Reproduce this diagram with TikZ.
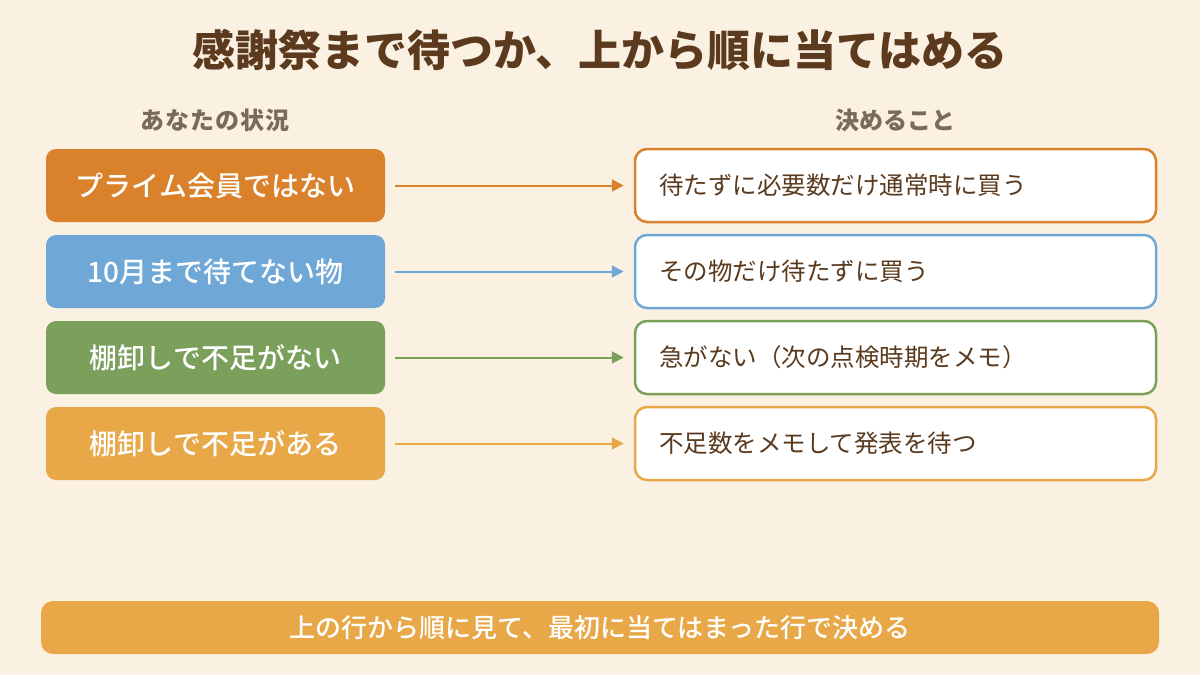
\documentclass[tikz,border=0pt]{standalone}
\usepackage{fontspec}
\setmainfont{Noto Sans CJK JP}
\newfontfamily\medfont{Noto Sans CJK JP Medium}
\usetikzlibrary{arrows.meta}
\definecolor{bg}{HTML}{FAF1E3}
\definecolor{titlec}{HTML}{5C3A1E}
\definecolor{headc}{HTML}{7A6A58}
\definecolor{textc}{HTML}{5A3A1E}
\definecolor{corange}{HTML}{D9822B}
\definecolor{cblue}{HTML}{6FA8D6}
\definecolor{cgreen}{HTML}{7BA05B}
\definecolor{clight}{HTML}{E8A848}
\tikzset{
  sitbox/.style={rounded corners=10pt, minimum width=339pt, minimum height=73pt, inner sep=0pt, text=white, font=\fontsize{28}{32}\selectfont\medfont},
  decbox/.style={rounded corners=12pt, line width=2.5pt, fill=white, minimum width=521pt, minimum height=73pt, inner xsep=24pt, text width=473pt, align=left, text=textc, font=\fontsize{24.5}{28}\selectfont},
  conn/.style={line width=2pt, -{Triangle[length=12pt,width=12pt]}, shorten <=10pt, shorten >=10pt},
  headtxt/.style={text=headc, font=\fontsize{24}{28}\selectfont\bfseries},
}
\begin{document}
\begin{tikzpicture}[x=1pt,y=-1pt]
\useasboundingbox[fill=bg] (0,0) rectangle (1200,675);
\node[text=titlec, font=\fontsize{43}{48}\selectfont\bfseries] (title) at (600,50) {感謝祭まで待つか、上から順に当てはめる};
\node[headtxt, font=\fontsize{24}{28}\selectfont\bfseries\addfontfeatures{LetterSpace=5}] (h1) at (215,120) {あなたの状況};
\node[headtxt] (h2) at (895,120) {決めること};

\node[sitbox, fill=corange] (l1) at (215.5,185.5) {プライム会員ではない};
\node[sitbox, fill=cblue] (l2) at (215.5,271.5) {10月まで待てない物};
\node[sitbox, fill=cgreen] (l3) at (215.5,357.5) {棚卸しで不足がない};
\node[sitbox, fill=clight] (l4) at (215.5,443.5) {棚卸しで不足がある};

\node[decbox, draw=corange] (r1) at (895.5,185.5) {待たずに必要数だけ通常時に買う};
\node[decbox, draw=cblue] (r2) at (895.5,271.5) {その物だけ待たずに買う};
\node[decbox, draw=cgreen] (r3) at (895.5,357.5) {急がない（次の点検時期をメモ）};
\node[decbox, draw=clight] (r4) at (895.5,443.5) {不足数をメモして発表を待つ};

\draw[conn, corange] (l1) -- (r1);
\draw[conn, cblue] (l2) -- (r2);
\draw[conn, cgreen] (l3) -- (r3);
\draw[conn, clight] (l4) -- (r4);

\node[rounded corners=12pt, fill=clight, minimum width=1118pt, minimum height=53pt, inner sep=0pt, text=white, font=\fontsize{26}{30}\selectfont\medfont] (foot) at (600,627.5) {上の行から順に見て、最初に当てはまった行で決める};
\end{tikzpicture}
\end{document}
